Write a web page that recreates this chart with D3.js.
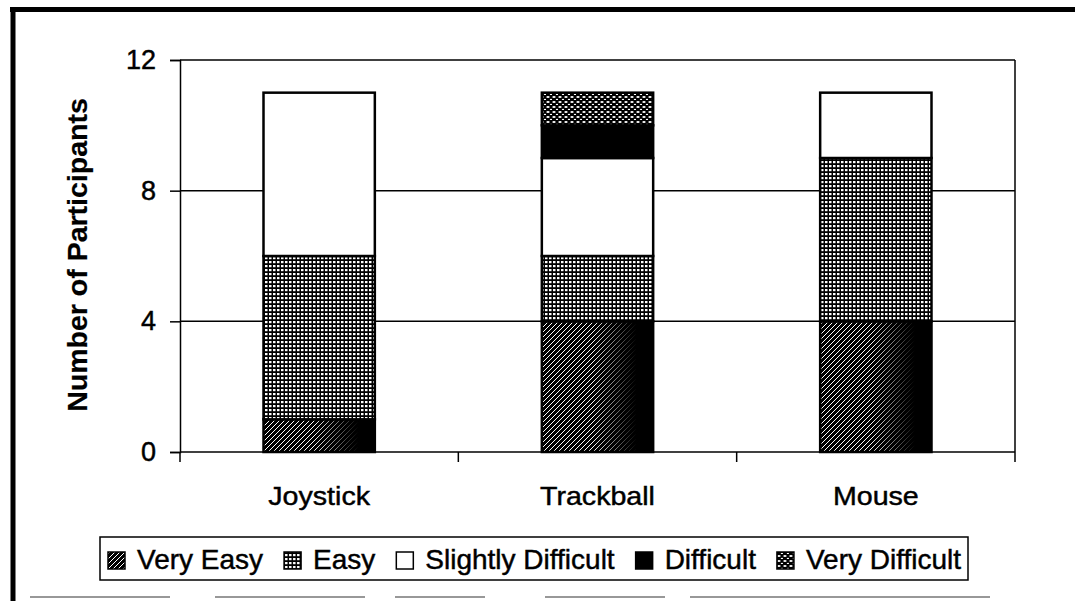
<!DOCTYPE html>
<html>
<head>
<meta charset="utf-8">
<script src="https://cdn.jsdelivr.net/npm/d3@7"></script>
<style>
  html, body { margin: 0; padding: 0; background: #fff; }
  svg { display: block; font-family: "Liberation Sans", Arial, Helvetica, sans-serif; }
  svg text { stroke: #000; stroke-width: 0.45px; fill: #000; }
</style>
</head>
<body>
<div id="chart"></div>
<script>
const categories = ["Joystick", "Trackball", "Mouse"];
const levels = ["Very Easy", "Easy", "Slightly Difficult", "Difficult", "Very Difficult"];
// participants per rating, one array per device (order follows levels)
const joystick = [1, 5, 5, 0, 0];
const trackball = [4, 2, 3, 1, 1];
const mouse = [4, 5, 2, 0, 0];
const yTicks = [0, 4, 8, 12];

const W = 1075, H = 601;
const margin = {top: 60, right: 60, bottom: 149, left: 180};
const width = W - margin.left - margin.right;
const height = H - margin.top - margin.bottom;

const svg = d3.select("#chart").append("svg")
  .attr("width", W)
  .attr("height", H);

// patterns to mimic the scanned b/w fills
const defs = svg.append("defs");

const pVE = defs.append("pattern").attr("id", "p0")
  .attr("patternUnits", "userSpaceOnUse").attr("width", 5).attr("height", 5);
pVE.append("rect").attr("width", 5).attr("height", 5).attr("fill", "#000");
pVE.append("path").attr("d", "M0,5 L5,0 M-1,1 L1,-1 M4,6 L6,4")
  .attr("stroke", "#fff").attr("stroke-width", 1.0);

const pE = defs.append("pattern").attr("id", "p1")
  .attr("patternUnits", "userSpaceOnUse").attr("width", 4).attr("height", 4);
pE.append("rect").attr("width", 4).attr("height", 4).attr("fill", "#000");
pE.append("rect").attr("x", 1).attr("y", 1).attr("width", 2.5).attr("height", 2.2).attr("fill", "#fff");

const pVD = defs.append("pattern").attr("id", "p4")
  .attr("patternUnits", "userSpaceOnUse").attr("width", 6).attr("height", 5);
pVD.append("rect").attr("width", 6).attr("height", 5).attr("fill", "#000");
pVD.append("ellipse").attr("cx", 2).attr("cy", 2).attr("rx", 1.7).attr("ry", 1.1).attr("fill", "#fff");
pVD.append("ellipse").attr("cx", 5).attr("cy", 4.5).attr("rx", 1.2).attr("ry", 0.7).attr("fill", "#fff");

// the hatched part darkens to the right in the scan
const fade = defs.append("linearGradient").attr("id", "fade")
  .attr("x1", 0).attr("x2", 1).attr("y1", 0).attr("y2", 0);
fade.append("stop").attr("offset", 0.45).attr("stop-color", "#000").attr("stop-opacity", 0);
fade.append("stop").attr("offset", 0.85).attr("stop-color", "#000").attr("stop-opacity", 1);

const fills = ["url(#p0)", "url(#p1)", "#fff", "#000", "url(#p4)"];

// outer frame
svg.append("line").attr("x1", 10).attr("x2", W).attr("y1", 9.5).attr("y2", 9.5)
  .attr("stroke", "#000").attr("stroke-width", 5);
svg.append("line").attr("x1", 13).attr("x2", 13).attr("y1", 7).attr("y2", H)
  .attr("stroke", "#000").attr("stroke-width", 5);
svg.append("line").attr("x1", 30).attr("x2", 1000).attr("y1", 597).attr("y2", 597)
  .attr("stroke", "#777").attr("stroke-width", 1.5).attr("stroke-dasharray", "140 45 150 30 90 60 120 25 300");

const g = svg.append("g").attr("transform", `translate(${margin.left},${margin.top})`);

const x = d3.scaleBand().domain(categories).range([0, width]);
const y = d3.scaleLinear().domain([0, 12]).range([height, 0]);

// gridlines
g.append("g")
  .selectAll("line")
  .data(yTicks.filter(d => d > 0))
  .join("line")
  .attr("x1", 0).attr("x2", width)
  .attr("y1", d => y(d)).attr("y2", d => y(d))
  .attr("stroke", "#000").attr("stroke-width", 1.5);

// right edge of plot area
g.append("line").attr("x1", width).attr("x2", width).attr("y1", 0).attr("y2", height)
  .attr("stroke", "#000").attr("stroke-width", 1.5);

// stack
const rows = categories.map((c, i) => {
  const vals = [joystick, trackball, mouse][i];
  const r = {cat: c};
  levels.forEach((l, j) => r[l] = vals[j]);
  return r;
});
const series = d3.stack().keys(levels)(rows);

const barW = x.bandwidth() * 0.4;
const bx = d => x(d.data.cat) + (x.bandwidth() - barW) / 2;

g.append("g")
  .selectAll("g")
  .data(series)
  .join("g")
  .attr("fill", (d, i) => fills[i])
  .selectAll("rect")
  .data(d => d.filter(s => s[1] > s[0]))
  .join("rect")
  .attr("x", bx)
  .attr("width", barW)
  .attr("y", d => y(d[1]))
  .attr("height", d => y(d[0]) - y(d[1]))
  .attr("stroke", "#000")
  .attr("stroke-width", 2.5);

// darkening over the hatched segments
g.append("g")
  .selectAll("rect")
  .data(series[0].filter(s => s[1] > s[0]))
  .join("rect")
  .attr("x", bx)
  .attr("width", barW)
  .attr("y", d => y(d[1]))
  .attr("height", d => y(d[0]) - y(d[1]))
  .attr("fill", "url(#fade)");

// y axis
const yAxis = g.append("g")
  .call(d3.axisLeft(y).tickValues(yTicks).tickSize(10).tickPadding(14).tickFormat(d3.format("d")));
yAxis.select(".domain").attr("stroke-width", 1.5);
yAxis.selectAll(".tick line").attr("stroke-width", 1.5);
yAxis.selectAll("text").attr("font-size", 27).attr("font-family", null).attr("fill", "#000");

// x axis with ticks between categories
const xAxisG = g.append("g").attr("transform", `translate(0,${height})`);
xAxisG.append("line").attr("x1", 0).attr("x2", width).attr("stroke", "#000").attr("stroke-width", 1.5);
xAxisG.selectAll(".sep")
  .data(categories.concat(["end"]))
  .join("line")
  .attr("class", "sep")
  .attr("x1", (d, i) => i * x.step()).attr("x2", (d, i) => i * x.step())
  .attr("y1", 0).attr("y2", 10)
  .attr("stroke", "#000").attr("stroke-width", 1.5);
xAxisG.selectAll(".lab")
  .data(categories)
  .join("text")
  .attr("class", "lab")
  .attr("transform", d => `translate(${x(d) + x.bandwidth() / 2},53) scale(1.1,1)`)
  .attr("text-anchor", "middle")
  .attr("font-size", 26)
  .text(d => d);

// y title
svg.append("text")
  .attr("transform", `translate(87,${margin.top + height / 2 - 1}) rotate(-90)`)
  .attr("text-anchor", "middle")
  .attr("font-size", 28.5)
  .attr("font-weight", "bold")
  .style("stroke-width", "0.2px")
  .text("Number of Participants");

// legend
const leg = svg.append("g");
leg.append("rect").attr("x", 100).attr("y", 537).attr("width", 868).attr("height", 43)
  .attr("fill", "#fff").attr("stroke", "#000").attr("stroke-width", 1.5);
const items = leg.selectAll(".item").data(levels).join("g").attr("class", "item");
items.append("rect")
  .attr("width", 17).attr("height", 17).attr("y", -17)
  .attr("fill", (d, i) => fills[i])
  .attr("stroke", "#000").attr("stroke-width", 1.5);
items.append("text")
  .attr("x", 29)
  .attr("font-size", 28)
  .text(d => d);
let cx = 108;
items.each(function() {
  const t = d3.select(this).select("text").node().getComputedTextLength();
  d3.select(this).attr("transform", `translate(${cx},569)`);
  cx += 29 + t + 21;
});
</script>
</body>
</html>
